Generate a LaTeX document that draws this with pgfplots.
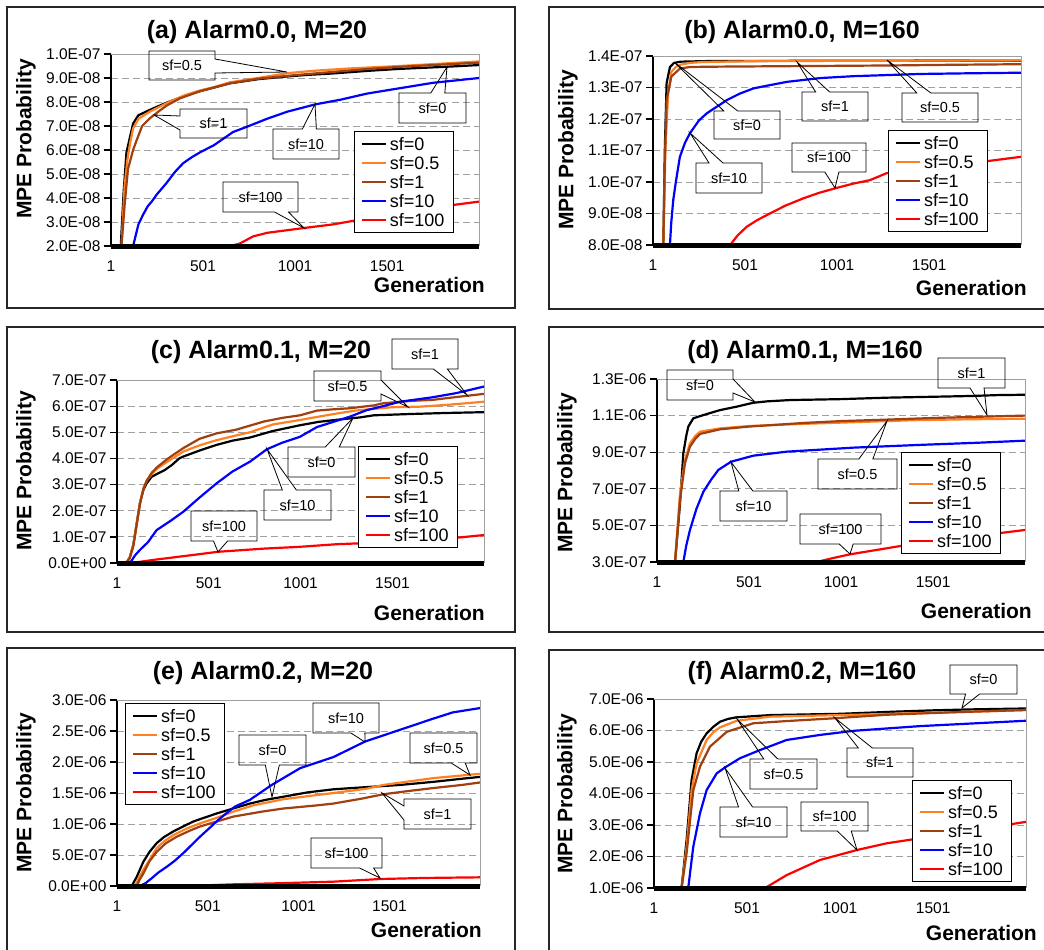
\documentclass[border=0pt]{standalone}
\usepackage{fontspec}
\setmainfont{Liberation Sans}
\usepackage{pgfplots}
\pgfplotsset{compat=1.18}
\usetikzlibrary{shapes.callouts}

\definecolor{cOrange}{RGB}{255,128,32}
\definecolor{cBrown}{RGB}{160,64,16}
\definecolor{cGrid}{RGB}{160,160,160}

\newcommand\fs[1]{\fontsize{#1}{#1}\selectfont}

\pgfplotsset{
  panel/.style={
    scale only axis, clip=false, anchor=south west,
    xmin=1, xmax=2000,
    xtick={1,501,1001,1501}, xticklabels={1,501,1001,1501},
    scaled y ticks=false,
    axis x line*=bottom, axis y line*=left,
    y axis line style={line width=1.6pt},
    x axis line style={draw=none},
    xtick style={draw=none},
    ytick style={line width=1.3pt, black},
    tick align=outside, major tick length=7pt,
    ymajorgrids, grid style={cGrid, line width=1pt, dash pattern=on 7pt off 4pt},
    tick label style={font=\fs{15.5}},
    xticklabel style={yshift=-4pt},
    no markers,
    legend entries={sf=0,sf=0.5,sf=1,sf=10,sf=100},
    legend cell align=left,
    legend style={anchor=north west, draw=black, line width=0.9pt, fill=white,
      font=\fs{18}, inner xsep=6pt, inner ysep=3pt, row sep=0pt,
      nodes={inner ysep=3pt, inner xsep=3pt, text height=13pt, text depth=0pt}},
    legend image code/.code={\draw[##1, line width=2.6pt] (0pt,0pt) -- (24pt,0pt);},
    every axis plot/.append style={line width=2.2pt, line join=round},
    extra description/.code={\draw[cGrid, line width=1pt] (0,1) -- (1,1) -- (1,0);},
  },
}

% callout: box corners x1 y1 x2 y2, pointer px py, text (pixel units, y down)
\newcommand\co[7]{%
  \node[rectangle callout, draw=black, line width=0.8pt, font=\fs{14.5}, inner sep=0pt,
    minimum width={(#3-#1)*1pt}, minimum height={(#4-#2)*1pt}, callout pointer width=14pt,
    callout absolute pointer={(#5pt,-#6pt)}] at ({(#1+#3)/2*1pt},{-(#2+#4)/2*1pt}) {#7};}
\newcommand\ttl[3]{\node[font=\bfseries\fs{25}] at (#1pt,-#2pt) {#3};}
\newcommand\ylab[2]{\node[font=\bfseries\fs{21}, rotate=90] at (#1pt,-#2pt) {MPE Probability};}
\newcommand\xlab[2]{\node[font=\bfseries\fs{21}, anchor=east, inner sep=0pt] at (#1pt,-#2pt) {Generation};}

\begin{document}
\begin{tikzpicture}
\useasboundingbox (0pt,0pt) rectangle (1044pt,-950pt);
\fill[white] (0pt,0pt) rectangle (1044pt,-950pt);

% ---------------- (a) ----------------
\begin{axis}[panel, at={(111pt,-246pt)}, width=368pt, height=192pt,
  ymin=2e-8, ymax=1e-7,
  ytick={2e-8,3e-8,4e-8,5e-8,6e-8,7e-8,8e-8,9e-8,1e-7},
  yticklabels={2.0E-08,3.0E-08,4.0E-08,5.0E-08,6.0E-08,7.0E-08,8.0E-08,9.0E-08,1.0E-07},
  legend style={at={(0.660,0.599)}}]
\addplot[black] coordinates {(54,2e-8) (70,4.3e-8) (85,5.9e-8) (103,6.5e-8) (121,7.1e-8) (150,7.45e-8) (212,7.67e-8) (250,7.8e-8) (303,7.97e-8) (400,8.25e-8) (484,8.45e-8) (560,8.6e-8) (647,8.78e-8) (800,8.95e-8) (935,9.05e-8) (1070,9.13e-8) (1207,9.19e-8) (1400,9.3e-8) (1569,9.38e-8) (1800,9.46e-8) (2000,9.54e-8)};
\addplot[cOrange] coordinates {(58,2e-8) (75,4.5e-8) (90,5.6e-8) (105,6.3e-8) (121,6.9e-8) (150,7.3e-8) (212,7.6e-8) (303,7.95e-8) (400,8.28e-8) (484,8.48e-8) (560,8.62e-8) (647,8.82e-8) (800,9.0e-8) (957,9.2e-8) (1100,9.3e-8) (1300,9.4e-8) (1569,9.5e-8) (1800,9.6e-8) (2000,9.69e-8)};
\addplot[cBrown] coordinates {(58,2e-8) (75,3.7e-8) (93,5.2e-8) (121,6.0e-8) (140,6.4e-8) (170,7.0e-8) (212,7.32e-8) (267,7.65e-8) (303,7.85e-8) (375,8.15e-8) (484,8.45e-8) (647,8.78e-8) (800,8.97e-8) (1000,9.12e-8) (1200,9.25e-8) (1400,9.38e-8) (1600,9.48e-8) (1800,9.56e-8) (2000,9.64e-8)};
\addplot[blue] coordinates {(121,2e-8) (150,2.9e-8) (175,3.3e-8) (200,3.65e-8) (222,3.85e-8) (250,4.15e-8) (300,4.6e-8) (350,5.1e-8) (393,5.45e-8) (440,5.7e-8) (484,5.9e-8) (560,6.2e-8) (664,6.75e-8) (750,7.0e-8) (848,7.3e-8) (960,7.6e-8) (1110,7.9e-8) (1250,8.1e-8) (1391,8.35e-8) (1550,8.55e-8) (1750,8.8e-8) (2000,9.0e-8)};
\addplot[red] coordinates {(648,2e-8) (700,2.1e-8) (773,2.4e-8) (850,2.55e-8) (950,2.65e-8) (1049,2.75e-8) (1207,2.9e-8) (1391,3.15e-8) (1500,3.3e-8) (1663,3.5e-8) (1800,3.65e-8) (2000,3.85e-8)};
\addplot[black, line width=5pt, forget plot] coordinates {(1,2e-8) (2000,2e-8)};
\end{axis}

% ---------------- (b) ----------------
\begin{axis}[panel, at={(653pt,-245pt)}, width=368pt, height=189pt,
  ymin=8e-8, ymax=1.4e-7,
  ytick={8e-8,9e-8,1e-7,1.1e-7,1.2e-7,1.3e-7,1.4e-7},
  yticklabels={8.0E-08,9.0E-08,1.0E-07,1.1E-07,1.2E-07,1.3E-07,1.4E-07},
  legend style={at={(0.639,0.608)}}]
\addplot[black] coordinates {(57,8e-8) (65,1.1e-7) (75,1.314e-7) (93,1.365e-7) (115,1.378e-7) (150,1.382e-7) (300,1.384e-7) (1000,1.385e-7) (2000,1.386e-7)};
\addplot[cOrange] coordinates {(57,8e-8) (68,1.1e-7) (83,1.28e-7) (101,1.35e-7) (125,1.365e-7) (147,1.372e-7) (200,1.378e-7) (270,1.381e-7) (600,1.384e-7) (1300,1.385e-7) (2000,1.387e-7)};
\addplot[cBrown] coordinates {(57,8e-8) (65,1.05e-7) (75,1.26e-7) (101,1.335e-7) (147,1.36e-7) (200,1.365e-7) (300,1.366e-7) (800,1.368e-7) (1300,1.37e-7) (1600,1.372e-7) (2000,1.374e-7)};
\addplot[blue] coordinates {(93,8e-8) (100,8.7e-8) (111,9.43e-8) (125,1.0e-7) (147,1.08e-7) (175,1.125e-7) (202,1.155e-7) (250,1.195e-7) (293,1.218e-7) (350,1.24e-7) (402,1.26e-7) (470,1.28e-7) (546,1.297e-7) (640,1.308e-7) (729,1.318e-7) (910,1.33e-7) (1091,1.336e-7) (1300,1.34e-7) (1452,1.343e-7) (1700,1.345e-7) (2000,1.347e-7)};
\addplot[red] coordinates {(420,8e-8) (460,8.3e-8) (510,8.58e-8) (570,8.8e-8) (636,9.0e-8) (720,9.25e-8) (817,9.48e-8) (900,9.65e-8) (990,9.8e-8) (1090,9.95e-8) (1180,1.006e-7) (1270,1.028e-7) (1450,1.04e-7) (1631,1.054e-7) (1800,1.065e-7) (2000,1.08e-7)};
\addplot[black, line width=5pt, forget plot] coordinates {(1,8e-8) (2000,8e-8)};
\end{axis}

% ---------------- (c) ----------------
\begin{axis}[panel, at={(117pt,-563pt)}, width=367pt, height=183pt,
  ymin=0, ymax=7e-7,
  ytick={0,1e-7,2e-7,3e-7,4e-7,5e-7,6e-7,7e-7},
  yticklabels={0.0E+00,1.0E-07,2.0E-07,3.0E-07,4.0E-07,5.0E-07,6.0E-07,7.0E-07},
  legend style={at={(0.657,0.639)}}]
\addplot[black] coordinates {(1,0) (50,0) (70,0.2e-7) (90,0.7e-7) (108,1.5e-7) (126,2.3e-7) (145,2.8e-7) (163,3.05e-7) (190,3.3e-7) (217,3.4e-7) (260,3.55e-7) (300,3.75e-7) (340,4.0e-7) (361,4.07e-7) (450,4.3e-7) (544,4.52e-7) (630,4.68e-7) (725,4.8e-7) (850,5.05e-7) (998,5.27e-7) (1100,5.4e-7) (1200,5.48e-7) (1325,5.57e-7) (1400,5.65e-7) (1600,5.7e-7) (1800,5.74e-7) (2000,5.77e-7)};
\addplot[cOrange] coordinates {(1,0) (50,0) (70,0.2e-7) (90,0.7e-7) (108,1.5e-7) (126,2.3e-7) (145,2.85e-7) (163,3.15e-7) (190,3.4e-7) (217,3.6e-7) (270,3.85e-7) (361,4.26e-7) (450,4.5e-7) (544,4.7e-7) (650,4.88e-7) (725,5.0e-7) (850,5.3e-7) (998,5.47e-7) (1100,5.6e-7) (1200,5.72e-7) (1300,5.83e-7) (1500,5.96e-7) (1650,5.98e-7) (1800,6.05e-7) (2000,6.17e-7)};
\addplot[cBrown] coordinates {(1,0) (50,0) (70,0.18e-7) (90,0.65e-7) (108,1.45e-7) (126,2.25e-7) (145,2.85e-7) (163,3.15e-7) (190,3.45e-7) (217,3.65e-7) (270,3.95e-7) (300,4.1e-7) (361,4.39e-7) (450,4.75e-7) (544,4.96e-7) (650,5.1e-7) (800,5.41e-7) (900,5.55e-7) (998,5.65e-7) (1090,5.83e-7) (1180,5.88e-7) (1270,5.92e-7) (1400,6.03e-7) (1450,6.11e-7) (1600,6.2e-7) (1720,6.24e-7) (1850,6.35e-7) (2000,6.47e-7)};
\addplot[blue] coordinates {(1,0) (72,0) (100,0.3e-7) (126,0.5e-7) (170,0.8e-7) (217,1.26e-7) (290,1.6e-7) (362,1.96e-7) (450,2.5e-7) (544,3.05e-7) (630,3.5e-7) (726,3.88e-7) (817,4.35e-7) (900,4.6e-7) (998,4.83e-7) (1090,5.2e-7) (1180,5.4e-7) (1270,5.6e-7) (1362,5.85e-7) (1450,6.0e-7) (1543,6.17e-7) (1720,6.34e-7) (1850,6.5e-7) (2000,6.75e-7)};
\addplot[red] coordinates {(1,0) (100,0.02e-7) (200,0.12e-7) (350,0.25e-7) (553,0.43e-7) (800,0.55e-7) (998,0.62e-7) (1200,0.72e-7) (1543,0.81e-7) (1800,0.93e-7) (2000,1.07e-7)};
\addplot[black, line width=5pt, forget plot] coordinates {(1,0) (2000,0)};
\end{axis}

% ---------------- (d) ----------------
\begin{axis}[panel, at={(657pt,-562pt)}, width=368pt, height=183pt,
  ymin=3e-7, ymax=1.3e-6,
  ytick={3e-7,5e-7,7e-7,9e-7,1.1e-6,1.3e-6},
  yticklabels={3.0E-07,5.0E-07,7.0E-07,9.0E-07,1.1E-06,1.3E-06},
  legend style={at={(0.663,0.601)}}]
\addplot[black] coordinates {(99,3e-7) (110,4.3e-7) (126,6.2e-7) (144,8.94e-7) (160,9.9e-7) (171,1.04e-6) (198,1.085e-6) (253,1.103e-6) (343,1.13e-6) (434,1.149e-6) (523,1.17e-6) (600,1.178e-6) (725,1.185e-6) (1000,1.19e-6) (1250,1.198e-6) (1500,1.203e-6) (1700,1.207e-6) (1850,1.212e-6) (2000,1.214e-6)};
\addplot[cOrange] coordinates {(99,3e-7) (126,6.75e-7) (153,8.57e-7) (180,9.49e-7) (210,9.9e-7) (235,1.012e-6) (343,1.03e-6) (500,1.043e-6) (800,1.055e-6) (1100,1.065e-6) (1400,1.075e-6) (1700,1.08e-6) (2000,1.083e-6)};
\addplot[cBrown] coordinates {(99,3e-7) (126,6.4e-7) (153,8.4e-7) (180,9.3e-7) (210,9.75e-7) (235,1.0e-6) (343,1.025e-6) (500,1.04e-6) (800,1.06e-6) (1000,1.07e-6) (1249,1.078e-6) (1500,1.087e-6) (1800,1.095e-6) (2000,1.1e-6)};
\addplot[blue] coordinates {(144,3e-7) (160,3.9e-7) (180,4.75e-7) (215,5.9e-7) (253,6.84e-7) (295,7.5e-7) (334,8.03e-7) (403,8.48e-7) (524,8.81e-7) (706,9.03e-7) (1069,9.25e-7) (1430,9.4e-7) (1750,9.52e-7) (2000,9.63e-7)};
\addplot[red] coordinates {(869,3e-7) (950,3.2e-7) (1050,3.42e-7) (1249,3.75e-7) (1430,4.05e-7) (1700,4.38e-7) (2000,4.75e-7)};
\addplot[black, line width=5pt, forget plot] coordinates {(1,3e-7) (2000,3e-7)};
\end{axis}

% ---------------- (e) ----------------
\begin{axis}[panel, at={(117pt,-886pt)}, width=363pt, height=186pt,
  ymin=0, ymax=3e-6,
  ytick={0,5e-7,1e-6,1.5e-6,2e-6,2.5e-6,3e-6},
  yticklabels={0.0E+00,5.0E-07,1.0E-06,1.5E-06,2.0E-06,2.5E-06,3.0E-06},
  legend style={at={(0.022,0.984)}}]
\addplot[black] coordinates {(1,0) (82,0) (110,1.5e-7) (146,3.9e-7) (180,5.5e-7) (219,6.9e-7) (260,7.9e-7) (311,8.8e-7) (365,9.6e-7) (421,1.04e-6) (480,1.1e-6) (550,1.17e-6) (640,1.25e-6) (733,1.33e-6) (820,1.39e-6) (917,1.44e-6) (1050,1.51e-6) (1193,1.56e-6) (1400,1.6e-6) (1560,1.63e-6) (1743,1.68e-6) (1900,1.73e-6) (2000,1.76e-6)};
\addplot[cOrange] coordinates {(1,0) (100,0) (120,1.2e-7) (146,2.6e-7) (180,4.2e-7) (219,6.1e-7) (260,7.2e-7) (311,8.2e-7) (380,9.2e-7) (458,1.01e-6) (550,1.1e-6) (642,1.2e-6) (750,1.3e-6) (917,1.4e-6) (1193,1.5e-6) (1376,1.57e-6) (1468,1.63e-6) (1743,1.74e-6) (2000,1.81e-6)};
\addplot[cBrown] coordinates {(1,0) (110,0) (125,1.0e-7) (146,2.0e-7) (180,4.0e-7) (219,5.5e-7) (270,6.9e-7) (330,7.95e-7) (400,8.9e-7) (458,9.6e-7) (550,1.04e-6) (642,1.12e-6) (800,1.2e-6) (917,1.25e-6) (1100,1.3e-6) (1193,1.33e-6) (1350,1.41e-6) (1468,1.48e-6) (1600,1.53e-6) (1743,1.58e-6) (1900,1.63e-6) (2000,1.67e-6)};
\addplot[blue] coordinates {(1,0) (127,0) (160,0.5e-7) (190,1.2e-7) (230,2.2e-7) (275,3.1e-7) (320,4.1e-7) (366,5.3e-7) (458,7.95e-7) (568,1.09e-6) (650,1.28e-6) (733,1.39e-6) (853,1.63e-6) (1009,1.9e-6) (1193,2.08e-6) (1367,2.33e-6) (1560,2.52e-6) (1743,2.7e-6) (1850,2.8e-6) (2000,2.87e-6)};
\addplot[red] coordinates {(1,0) (400,0.01e-7) (642,0.27e-7) (900,0.45e-7) (1193,0.7e-7) (1450,1.13e-7) (1700,1.3e-7) (2000,1.4e-7)};
\addplot[black, line width=5pt, forget plot] coordinates {(1,0) (2000,0)};
\end{axis}

% ---------------- (f) ----------------
\begin{axis}[panel, at={(654pt,-888pt)}, width=372pt, height=189pt,
  ymin=1e-6, ymax=7e-6,
  ytick={1e-6,2e-6,3e-6,4e-6,5e-6,6e-6,7e-6},
  yticklabels={1.0E-06,2.0E-06,3.0E-06,4.0E-06,5.0E-06,6.0E-06,7.0E-06},
  legend style={at={(0.694,0.571)}}]
\addplot[black] coordinates {(149,1e-6) (176,2.52e-6) (190,3.5e-6) (203,4.43e-6) (230,5.28e-6) (255,5.65e-6) (284,5.91e-6) (320,6.12e-6) (356,6.28e-6) (400,6.37e-6) (446,6.42e-6) (625,6.49e-6) (1000,6.53e-6) (1300,6.6e-6) (1500,6.64e-6) (1700,6.67e-6) (2000,6.7e-6)};
\addplot[cOrange] coordinates {(149,1e-6) (176,2.3e-6) (190,3.2e-6) (203,4.1e-6) (230,4.96e-6) (284,5.7e-6) (320,5.95e-6) (356,6.1e-6) (446,6.31e-6) (625,6.44e-6) (1073,6.5e-6) (1610,6.58e-6) (2000,6.65e-6)};
\addplot[cBrown] coordinates {(149,1e-6) (176,2.1e-6) (212,4.1e-6) (248,4.85e-6) (302,5.49e-6) (392,5.96e-6) (535,6.23e-6) (714,6.3e-6) (973,6.39e-6) (1250,6.5e-6) (1610,6.58e-6) (2000,6.65e-6)};
\addplot[blue] coordinates {(185,1e-6) (212,2.31e-6) (248,3.37e-6) (284,4.11e-6) (338,4.64e-6) (383,4.83e-6) (463,5.12e-6) (571,5.38e-6) (714,5.7e-6) (893,5.86e-6) (1073,5.99e-6) (1431,6.14e-6) (2000,6.31e-6)};
\addplot[red] coordinates {(598,1e-6) (714,1.41e-6) (893,1.89e-6) (1094,2.21e-6) (1252,2.42e-6) (1431,2.58e-6) (1610,2.74e-6) (2000,3.1e-6)};
\addplot[black, line width=5pt, forget plot] coordinates {(1,1e-6) (2000,1e-6)};
\end{axis}

% titles and axis labels
\ttl{257}{32}{(a) Alarm0.0, M=20}
\ttl{802}{32}{(b) Alarm0.0, M=160}
\ttl{261}{352}{(c) Alarm0.1, M=20}
\ttl{805}{352}{(d) Alarm0.1, M=160}
\ttl{263}{673}{(e) Alarm0.2, M=20}
\ttl{802}{673}{(f) Alarm0.2, M=160}
\ylab{26}{139}\ylab{568}{150}\ylab{26}{471}\ylab{567}{473}\ylab{26}{793}\ylab{567}{794}
\xlab{485}{285}\xlab{1027}{288}\xlab{485}{613}\xlab{1032}{611}\xlab{482}{930}\xlab{1037}{933}

% callouts
\co{149}{51}{215}{80}{287}{72}{sf=0.5}
\co{180}{109}{247}{138}{154}{115}{sf=1}
\co{273}{129}{339}{159}{315}{104}{sf=10}
\co{399}{93}{466}{123}{447}{67}{sf=0}
\co{223}{182}{298}{212}{304}{228}{sf=100}
\co{714}{111}{780}{139}{674}{62}{sf=0}
\co{696}{163}{762}{193}{690}{133}{sf=10}
\co{802}{92}{868}{121}{797}{62}{sf=1}
\co{902}{93}{978}{122}{887}{60}{sf=0.5}
\co{792}{143}{866}{172}{835}{188}{sf=100}
\co{392}{339}{458}{369}{467}{395}{sf=1}
\co{314}{371}{381}{401}{408}{407}{sf=0.5}
\co{288}{447}{355}{477}{353}{418}{sf=0}
\co{264}{490}{331}{520}{267}{449}{sf=10}
\co{191}{511}{257}{541}{218}{552}{sf=100}
\co{667}{370}{733}{400}{755}{402}{sf=0}
\co{938}{358}{1005}{388}{987}{415}{sf=1}
\co{818}{459}{897}{489}{887}{421}{sf=0.5}
\co{720}{491}{787}{521}{731}{462}{sf=10}
\co{800}{514}{881}{544}{850}{554}{sf=100}
\co{313}{703}{379}{733}{365}{742}{sf=10}
\co{239}{735}{306}{765}{272}{797}{sf=0}
\co{410}{733}{477}{763}{470}{775}{sf=0.5}
\co{404}{799}{471}{829}{382}{793}{sf=1}
\co{311}{838}{382}{868}{380}{878}{sf=100}
\co{950}{665}{1017}{694}{962}{708}{sf=0}
\co{750}{759}{817}{789}{737}{719}{sf=0.5}
\co{847}{748}{913}{777}{835}{718}{sf=1}
\co{720}{807}{787}{837}{725}{768}{sf=10}
\co{801}{802}{868}{831}{857}{850}{sf=100}

% panel frames
\begin{scope}[line width=1.2pt, black!85]
\draw (7pt,-7pt) rectangle (515pt,-308pt);
\draw (549pt,-7pt) rectangle (1046pt,-309pt);
\draw (7pt,-327pt) rectangle (515pt,-632pt);
\draw (549pt,-327pt) rectangle (1046pt,-632pt);
\draw (7pt,-648pt) rectangle (515pt,-955pt);
\draw (549pt,-650pt) rectangle (1046pt,-955pt);
\end{scope}
\end{tikzpicture}
\end{document}
